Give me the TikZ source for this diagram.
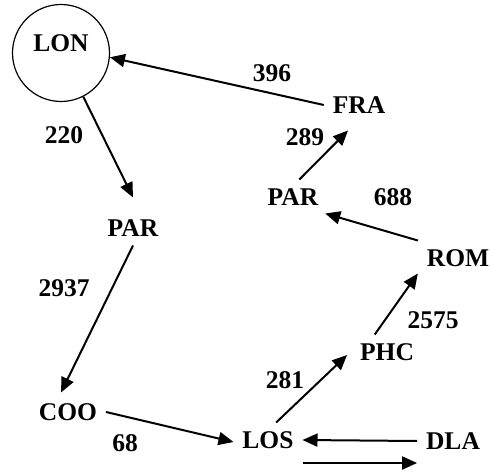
\documentclass[tikz,border=0pt]{standalone}
\usepackage{fontspec}
\setmainfont{Liberation Serif}
\usetikzlibrary{arrows.meta, positioning}

\begin{document}
\begin{tikzpicture}[x=1pt, y=-1pt, >={Triangle[length=15pt, width=13pt]},
    line width=2pt,
    city/.style={font=\fontsize{25.5}{30}\selectfont\bfseries, inner sep=8pt,
        text height=17pt, text depth=0pt},
    dist/.style={font=\fontsize{25.5}{30}\selectfont\bfseries, inner sep=0pt}]
    \useasboundingbox (0,0) rectangle (490,473);
    % Nodes
    \node[city, circle, draw, line width=1.2pt, minimum size=97pt,
        text depth=20pt] (LON) at (61,53) {LON};
    \node[city] (PARa) at (133,228) {PAR};
    \node[city] (COO) at (68,412) {COO};
    \node[city] (LOS) at (268,440) {LOS};
    \node[city] (DLA) at (453,441) {DLA};
    \node[city] (PHC) at (387,352) {PHC};
    \node[city] (ROM) at (458,258) {ROM};
    \node[city] (PARb) at (293,197) {PAR};
    \node[city] (FRA) at (359,105) {FRA};

    % Edges
    \draw[->] (LON.-63) -- ([yshift=13pt]PARa.north);
    \draw[->] (PARa.south) -- ([xshift=-7pt, yshift=2pt]COO.north);
    \draw[->] (COO.east) -- ([yshift=-2pt]LOS.west);
    \draw[->] (LOS.65) -- ([xshift=-4pt, yshift=-3pt]PHC.west);
    \draw[->] (PHC.125) -- ([yshift=2pt]ROM.south west);
    \draw[->] (ROM.north west) -- ([xshift=-2pt, yshift=1pt]PARb.south east);
    \draw[->] (PARb.70) -- ([xshift=-11pt, yshift=-8pt]FRA.south);
    \draw[->] (FRA.west) -- (LON.-5);
    \draw[->] (DLA.west) -- (LOS.east);
    \draw[->] ([yshift=-23pt]LOS.east) -- ([yshift=-22pt]DLA.west);

    % Distances
    \node[dist] (d220) at (64,135) {220};
    \node[dist] (d2937) at (64,288) {2937};
    \node[dist] (d68) at (125,443) {68};
    \node[dist] (d281) at (285,380) {281};
    \node[dist] (d2575) at (433,320) {2575};
    \node[dist] (d688) at (393,197) {688};
    \node[dist] (d289) at (305,137) {289};
    \node[dist] (d396) at (272,73) {396};
\end{tikzpicture}
\end{document}
